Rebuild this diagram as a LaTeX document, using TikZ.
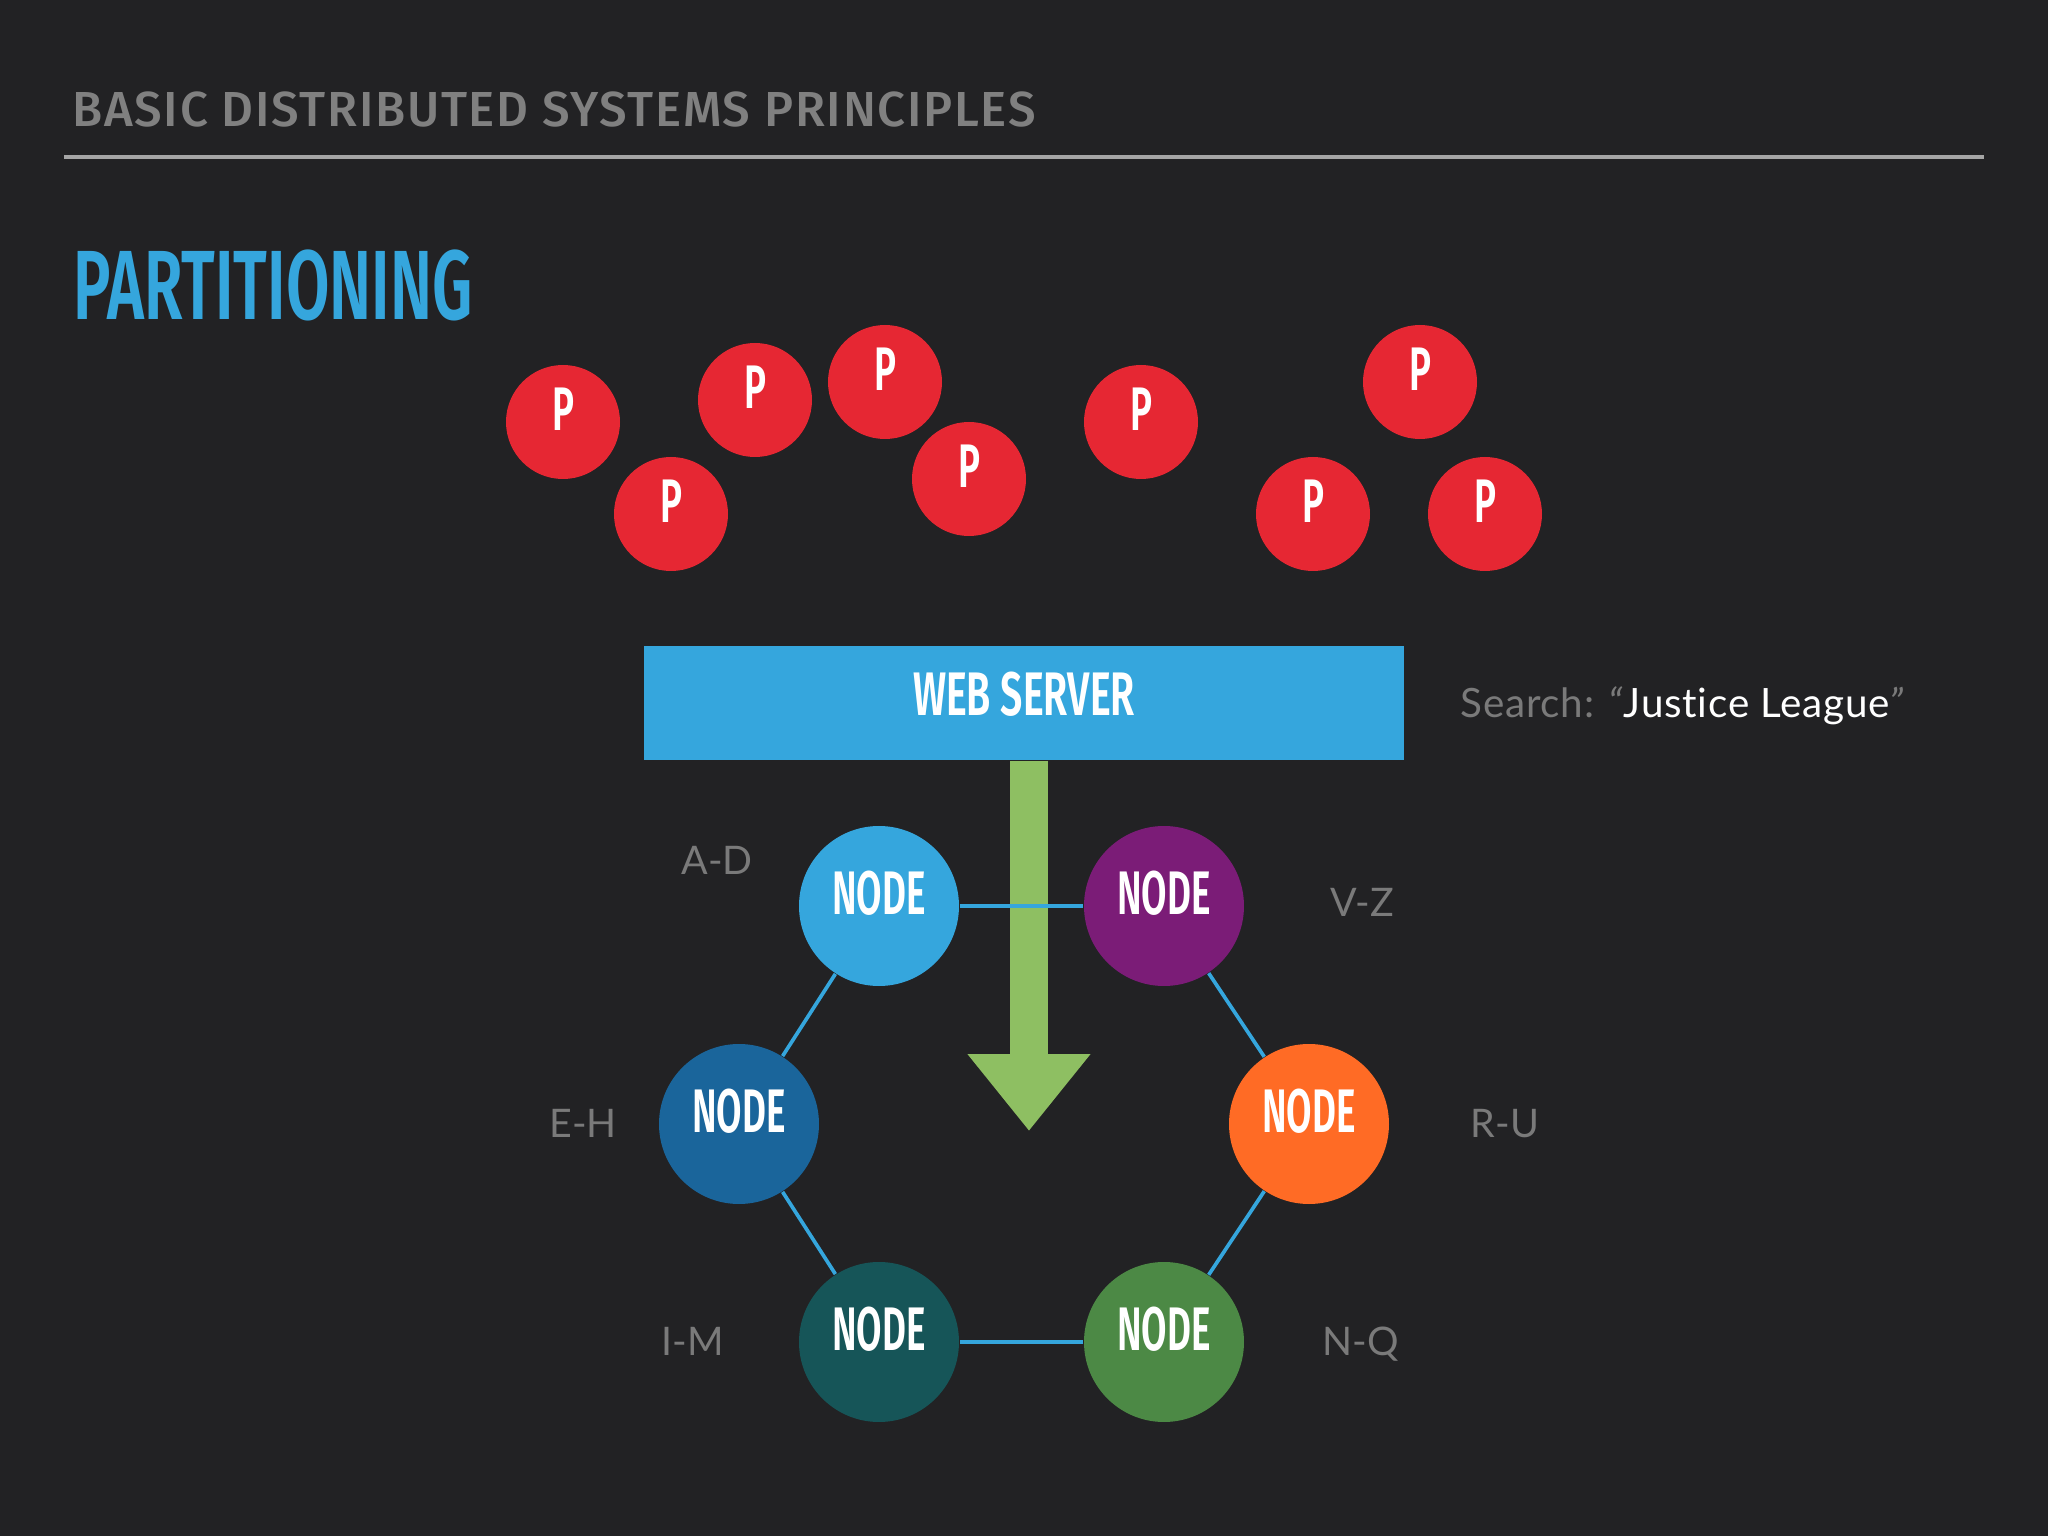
\documentclass[tikz,border=0pt]{standalone}
\usepackage{fontspec}
\usetikzlibrary{arrows.meta}
\setmainfont{Lato}
\newfontfamily\searchfont[LetterSpace=1.8,Ligatures=NoCommon]{Lato}
\newfontfamily\headfont[LetterSpace=3.4]{Fira Sans Medium}
\newfontfamily\narrowfont[FakeStretch=0.60,BoldFont={Fira Sans SemiBold}]{Fira Sans}
\newfontfamily\titlefont[FakeStretch=0.64,BoldFont={Fira Sans SemiBold}]{Fira Sans}
\definecolor{bgdark}{HTML}{222224}
\definecolor{headgrey}{HTML}{808080}
\definecolor{rulegrey}{HTML}{A5A5A5}
\definecolor{labelgrey}{HTML}{7A7A7A}
\definecolor{skyblue}{HTML}{35A6DD}
\definecolor{redp}{HTML}{E62733}
\definecolor{arrowgreen}{HTML}{8EBF62}
\definecolor{ringpurple}{HTML}{7B1C77}
\definecolor{ringorange}{HTML}{FF6B25}
\definecolor{ringgreen}{HTML}{4C8945}
\definecolor{ringteal}{HTML}{165558}
\definecolor{ringblue}{HTML}{1A659B}
\tikzset{
    pcirc/.style={circle, fill=redp, minimum size=1.14cm, inner sep=0pt, text=white, font=\narrowfont\bfseries\fontsize{17.5}{20}\selectfont, text height=4.2mm, text depth=2.4mm},
    ringcirc/.style={circle, minimum size=1.6cm, inner sep=0pt, text=white, font=\narrowfont\bfseries\fontsize{17.5}{20}\selectfont, text height=4.2mm, text depth=2.5mm},
    rangelabel/.style={anchor=base, text=labelgrey, font=\fontsize{11.2}{14}\selectfont, inner sep=0pt},
    ringline/.style={draw=skyblue, line width=1.05pt}
}
\begin{document}
\begin{tikzpicture}
    \useasboundingbox (0,0) rectangle (20.48,-15.36);
    \fill[bgdark] (0,0) rectangle (20.48,-15.36);

    \node[anchor=base west, inner sep=0pt, text=headgrey, font=\headfont\fontsize{14}{16}\selectfont] (header) at (0.72,-1.27) {BASIC DISTRIBUTED SYSTEMS PRINCIPLES};
    \coordinate (ruleL) at (0.64,-1.57);
    \coordinate (ruleR) at (19.84,-1.57);
    \draw[rulegrey, line width=1.1pt] (ruleL) -- (ruleR);
    \node[anchor=base west, inner sep=0pt, text=skyblue, font=\titlefont\bfseries\fontsize{28}{32}\selectfont] (title) at (0.73,-3.20) {PARTITIONING};

    \node[pcirc] (p1) at (5.63,-4.22) {P};
    \node[pcirc] (p2) at (6.71,-5.14) {P};
    \node[pcirc] (p3) at (7.55,-4.00) {P};
    \node[pcirc] (p4) at (8.85,-3.82) {P};
    \node[pcirc] (p5) at (9.69,-4.79) {P};
    \node[pcirc] (p6) at (11.41,-4.22) {P};
    \node[pcirc] (p7) at (14.20,-3.82) {P};
    \node[pcirc] (p8) at (13.13,-5.14) {P};
    \node[pcirc] (p9) at (14.85,-5.14) {P};

    \node[fill=skyblue, minimum width=7.60cm, minimum height=1.14cm, inner sep=0pt, text=white, font=\titlefont\bfseries\fontsize{17.5}{20}\selectfont, text height=4.2mm, text depth=1.6mm] (web) at (10.24,-7.03) {WEB SERVER};
    \node[anchor=base west, inner sep=0pt, font=\searchfont\fontsize{11.5}{14}\selectfont, text=labelgrey] (search) at (14.60,-7.18) {Search: \textit{“}\textcolor{white}{Justice League}\textit{”}};

    \coordinate (flowtip) at (10.29,-11.31);
    \draw[arrowgreen, line width=0.38cm, -{Triangle[length=0.77cm, width=1.18cm]}] (web.south -| flowtip) -- (flowtip);

    \node[ringcirc, fill=skyblue] (ad) at (8.79,-9.06) {NODE};
    \node[ringcirc, fill=ringpurple] (vz) at (11.64,-9.06) {NODE};
    \node[ringcirc, fill=ringorange] (ru) at (13.09,-11.24) {NODE};
    \node[ringcirc, fill=ringgreen] (nq) at (11.64,-13.42) {NODE};
    \node[ringcirc, fill=ringteal] (im) at (8.79,-13.42) {NODE};
    \node[ringcirc, fill=ringblue] (eh) at (7.39,-11.24) {NODE};

    \draw[ringline] (ad) -- (vz);
    \draw[ringline] (vz) -- (ru);
    \draw[ringline] (ru) -- (nq);
    \draw[ringline] (nq) -- (im);
    \draw[ringline] (im) -- (eh);
    \draw[ringline] (eh) -- (ad);

    \node[rangelabel] (adlabel) at (7.17,-8.74) {A-D};
    \node[rangelabel] (vzlabel) at (13.62,-9.16) {V-Z};
    \node[rangelabel] (rulabel) at (15.05,-11.37) {R-U};
    \node[rangelabel] (nqlabel) at (13.61,-13.55) {N-Q};
    \node[rangelabel] (imlabel) at (6.93,-13.55) {I-M};
    \node[rangelabel] (ehlabel) at (5.83,-11.37) {E-H};
\end{tikzpicture}
\end{document}
